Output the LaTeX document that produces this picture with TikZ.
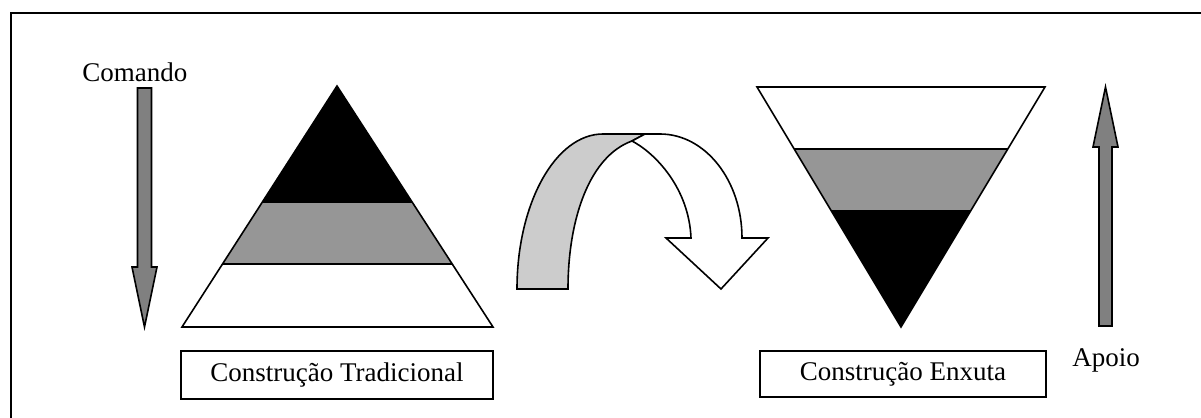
\documentclass[tikz,border=0pt]{standalone}
\usepackage{fontspec}
\setmainfont{Liberation Serif}
\usetikzlibrary{calc}
\definecolor{arrowgray}{HTML}{808080}
\definecolor{layergray}{HTML}{969696}
\definecolor{ribbongray}{HTML}{CCCCCC}

\begin{document}
\begin{tikzpicture}[
  x=0.5pt, y=0.5pt,
  font=\fontsize{13.5}{16}\selectfont,
  outline/.style={
    draw=black,
    line width=0.8pt,
    line join=miter
  },
  levelline/.style={
    draw=black,
    line width=0.8pt
  },
  blockarrow/.style={
    draw=black,
    fill=arrowgray,
    line width=0.8pt,
    line join=miter
  },
  captionbox/.style={
    draw=black,
    line width=1pt,
    inner sep=0pt,
    align=center
  }
]
  \useasboundingbox (0,0) rectangle (1201,418);

  % =========================================================================
  % FRAME (top and left edges only)
  % =========================================================================
  \draw[line width=1.2pt] (11,0) -- (11,405) -- (1201,405);

  % =========================================================================
  % LEFT: TRADITIONAL PYRAMID
  % =========================================================================
  \coordinate (tr_apex) at (337,332);
  \coordinate (tr_left) at (182,91);
  \coordinate (tr_right) at (493,91);
  \coordinate (tr_top_l) at ($(tr_apex)!0.4855!(tr_left)$);
  \coordinate (tr_top_r) at ($(tr_apex)!0.4855!(tr_right)$);
  \coordinate (tr_mid_l) at ($(tr_apex)!0.7386!(tr_left)$);
  \coordinate (tr_mid_r) at ($(tr_apex)!0.7386!(tr_right)$);

  \fill[black] (tr_apex) -- (tr_top_l) -- (tr_top_r) -- cycle;
  \fill[layergray] (tr_top_l) -- (tr_mid_l) -- (tr_mid_r) -- (tr_top_r) -- cycle;
  \draw[levelline] (tr_mid_l) -- (tr_mid_r);
  \draw[outline] (tr_apex) -- (tr_left) -- (tr_right) -- cycle;

  % Command arrow, pointing down
  \draw[blockarrow] (137.5,330) -- (151.5,330) -- (151.5,151) -- (157,151)
    -- (144.5,91) -- (132,151) -- (137.5,151) -- cycle;
  \node[anchor=base west, inner sep=0pt] (cmd_label) at (82,336) {Comando};

  \node[captionbox, minimum width=156pt, minimum height=24pt] (tr_caption) at (337,43)
    {Constru\c{c}\~ao Tradicional};

  % =========================================================================
  % CENTRE: TURNING RIBBON ARROW
  % =========================================================================
  \fill[ribbongray] (517,129) -- (568,129)
    .. controls (568,200) and (590,262) .. (632,277) -- (645,284) -- (603,284)
    .. controls (555.5,284) and (517,214.6) .. (517,129) -- cycle;
  \draw[outline] (517,129) -- (568,129)
    .. controls (568,200) and (590,262) .. (632,277) -- (645,284) -- (603,284)
    .. controls (555.5,284) and (517,214.6) .. (517,129) -- cycle;

  \draw[outline, fill=white] (645,284) -- (660,284)
    .. controls (705.3,284) and (742,237.4) .. (742,180)
    -- (768,180) -- (721,129) -- (666,180) -- (691,180)
    .. controls (689,230) and (655,265) .. (632,277) -- cycle;

  % =========================================================================
  % RIGHT: LEAN INVERTED PYRAMID
  % =========================================================================
  \coordinate (ln_apex) at (901,91);
  \coordinate (ln_left) at (757,331);
  \coordinate (ln_right) at (1045,331);
  \coordinate (ln_top_l) at ($(ln_apex)!0.7417!(ln_left)$);
  \coordinate (ln_top_r) at ($(ln_apex)!0.7417!(ln_right)$);
  \coordinate (ln_mid_l) at ($(ln_apex)!0.4875!(ln_left)$);
  \coordinate (ln_mid_r) at ($(ln_apex)!0.4875!(ln_right)$);

  \fill[black] (ln_apex) -- (ln_mid_l) -- (ln_mid_r) -- cycle;
  \fill[layergray] (ln_mid_l) -- (ln_top_l) -- (ln_top_r) -- (ln_mid_r) -- cycle;
  \draw[levelline] (ln_top_l) -- (ln_top_r);
  \draw[outline] (ln_apex) -- (ln_left) -- (ln_right) -- cycle;

  % Support arrow, pointing up
  \draw[blockarrow] (1099,92) -- (1112,92) -- (1112,271) -- (1118,271)
    -- (1105.5,331) -- (1093,271) -- (1099,271) -- cycle;
  \node[anchor=base west, inner sep=0pt] (sup_label) at (1072,51) {Apoio};

  \node[captionbox, minimum width=143pt, minimum height=23pt] (ln_caption) at (903,44)
    {Constru\c{c}\~ao Enxuta};

\end{tikzpicture}
\end{document}
